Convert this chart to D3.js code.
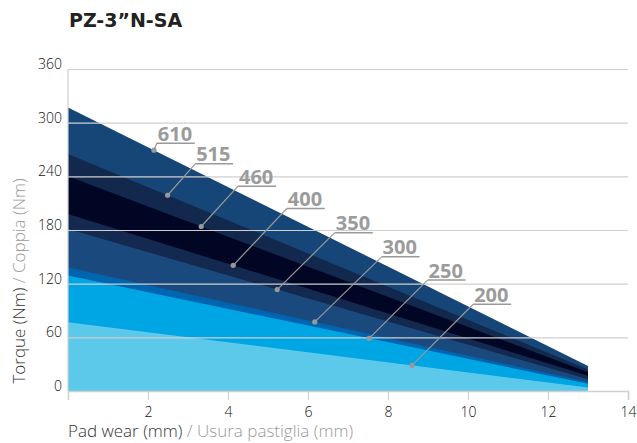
<!DOCTYPE html>
<html>
<head>
<meta charset="utf-8">
<script src="https://cdn.jsdelivr.net/npm/d3@7"></script>
<style>
  body { margin: 0; background: #fff; }
  text { font-family: "Open Sans", sans-serif; }
</style>
</head>
<body>
<div id="chart"></div>
<script>
// pad wear range (mm) covered by each curve
var wear = [0, 13];
var pressures = ["610", "515", "460", "400", "350", "300", "250", "200"];
var torqueAtStart = [317, 265, 240, 198, 181, 138, 129, 77];
var torqueAtEnd = [28, 24, 21, 17, 13, 10, 8, 4];
var bandColors = ["#164677", "#12284d", "#010625", "#13294f", "#1a4a7d", "#0065b0", "#00a5e3", "#5dc9ea"];
// where the callout dot sits on each curve (mm) and where its label starts [mm, Nm]
var dotWear = [2.15, 2.49, 3.33, 4.13, 5.23, 6.17, 7.53, 8.6];
var labelAt = [[2.22, 277], [3.18, 254], [4.25, 229], [5.47, 204], [6.67, 177], [7.84, 150], [8.99, 124], [10.13, 97]];
var xTicks = [2, 4, 6, 8, 10, 12, 14];
var yTicks = [0, 60, 120, 180, 240, 300, 360];

var width = 637, height = 443;
var margin = {top: 69, right: 9, bottom: 52, left: 68};

var x = d3.scaleLinear().domain([0, 14]).range([margin.left, width - margin.right]);
var y = d3.scaleLinear().domain([0, 360]).range([height - margin.bottom, margin.top]);

var svg = d3.select("#chart").append("svg")
    .attr("width", width)
    .attr("height", height);

svg.append("text")
    .attr("x", 69).attr("y", 27)
    .style("font-family", "'DejaVu Sans', sans-serif")
    .style("font-size", "19px").style("font-weight", "bold").style("fill", "#222")
    .text("PZ-3\u201dN-SA");

var series = pressures.map(function(p, i) {
    return {label: p, color: bandColors[i],
        values: [{w: wear[0], t: torqueAtStart[i]}, {w: wear[1], t: torqueAtEnd[i]}]};
});

var area = d3.area()
    .x(function(d) { return x(d.w); })
    .y0(y(0))
    .y1(function(d) { return y(d.t); });

svg.selectAll(".band")
    .data(series)
    .enter().append("path")
    .attr("class", "band")
    .attr("d", function(d) { return area(d.values); })
    .style("fill", function(d) { return d.color; });

// grid lines (on top of the bands)
svg.append("g")
    .attr("transform", "translate(" + margin.left + ",0)")
    .call(d3.axisLeft(y).tickValues(yTicks.slice(1)).tickSize(-(x(14) - x(0))).tickFormat(""))
    .call(function(g) {
        g.select(".domain").remove();
        g.selectAll("line").style("stroke", "#cfcfcf").style("stroke-width", 1.2);
    });

// left axis line
svg.append("line")
    .attr("x1", x(0)).attr("x2", x(0)).attr("y1", y(360)).attr("y2", y(0))
    .style("stroke", "#cfcfcf").style("stroke-width", 1.2);

// y tick labels
svg.selectAll(".ylab")
    .data(yTicks)
    .enter().append("text")
    .attr("class", "ylab")
    .attr("x", 62)
    .attr("y", function(d) { return y(d); })
    .attr("text-anchor", "end")
    .style("font-size", "14px").style("font-weight", 300).style("fill", "#111")
    .text(function(d) { return d; });

// x axis
var xAxis = svg.append("g")
    .attr("transform", "translate(0," + y(0) + ")")
    .call(d3.axisBottom(x).tickValues(xTicks).tickSize(9).tickPadding(7));
xAxis.select(".domain").style("stroke", "#cfcfcf").style("stroke-width", 1.5);
xAxis.selectAll("line").style("stroke", "#cfcfcf").style("stroke-width", 1.2);
xAxis.selectAll("text").style("font-size", "14px").style("font-weight", 300).style("fill", "#111")
    .style("font-family", "'Open Sans', sans-serif");

// callouts
var line = function(i) { return torqueAtStart[i] + (torqueAtEnd[i] - torqueAtStart[i]) * (dotWear[i] - wear[0]) / (wear[1] - wear[0]); };
var callouts = svg.append("g").selectAll("g")
    .data(series)
    .enter().append("g");

callouts.append("line")
    .attr("x1", function(d, i) { return x(dotWear[i]); })
    .attr("y1", function(d, i) { return y(line(i)); })
    .attr("x2", function(d, i) { return x(labelAt[i][0]); })
    .attr("y2", function(d, i) { return y(labelAt[i][1]); })
    .style("stroke", "#999").style("stroke-width", 1.2);

callouts.append("line")
    .attr("x1", function(d, i) { return x(labelAt[i][0]); })
    .attr("x2", function(d, i) { return x(labelAt[i][0]) + 38; })
    .attr("y1", function(d, i) { return y(labelAt[i][1]); })
    .attr("y2", function(d, i) { return y(labelAt[i][1]); })
    .style("stroke", "#999").style("stroke-width", 1.5);

callouts.append("circle")
    .attr("cx", function(d, i) { return x(dotWear[i]); })
    .attr("cy", function(d, i) { return y(line(i)); })
    .attr("r", 2.6)
    .style("fill", "#999");

callouts.append("text")
    .attr("x", function(d, i) { return x(labelAt[i][0]) + 1; })
    .attr("y", function(d, i) { return y(labelAt[i][1]) - 2.5; })
    .style("font-size", "20px").style("font-weight", "bold").style("fill", "#9b9b9b")
    .text(function(d) { return d.label; });

// axis titles
var yTitle = svg.append("text")
    .attr("transform", "translate(25," + 281 + ") rotate(-90)")
    .attr("text-anchor", "middle")
    .style("font-size", "17px").style("font-weight", 300);
yTitle.append("tspan").style("fill", "#333").text("Torque (Nm) ");
yTitle.append("tspan").style("fill", "#999").text("/ Coppia (Nm)");

var xTitle = svg.append("text")
    .attr("x", 68).attr("y", 437)
    .style("font-size", "17px").style("font-weight", 300);
xTitle.append("tspan").style("fill", "#333").text("Pad wear (mm) ");
xTitle.append("tspan").style("fill", "#999").text("/ Usura pastiglia (mm)");
</script>
</body>
</html>
